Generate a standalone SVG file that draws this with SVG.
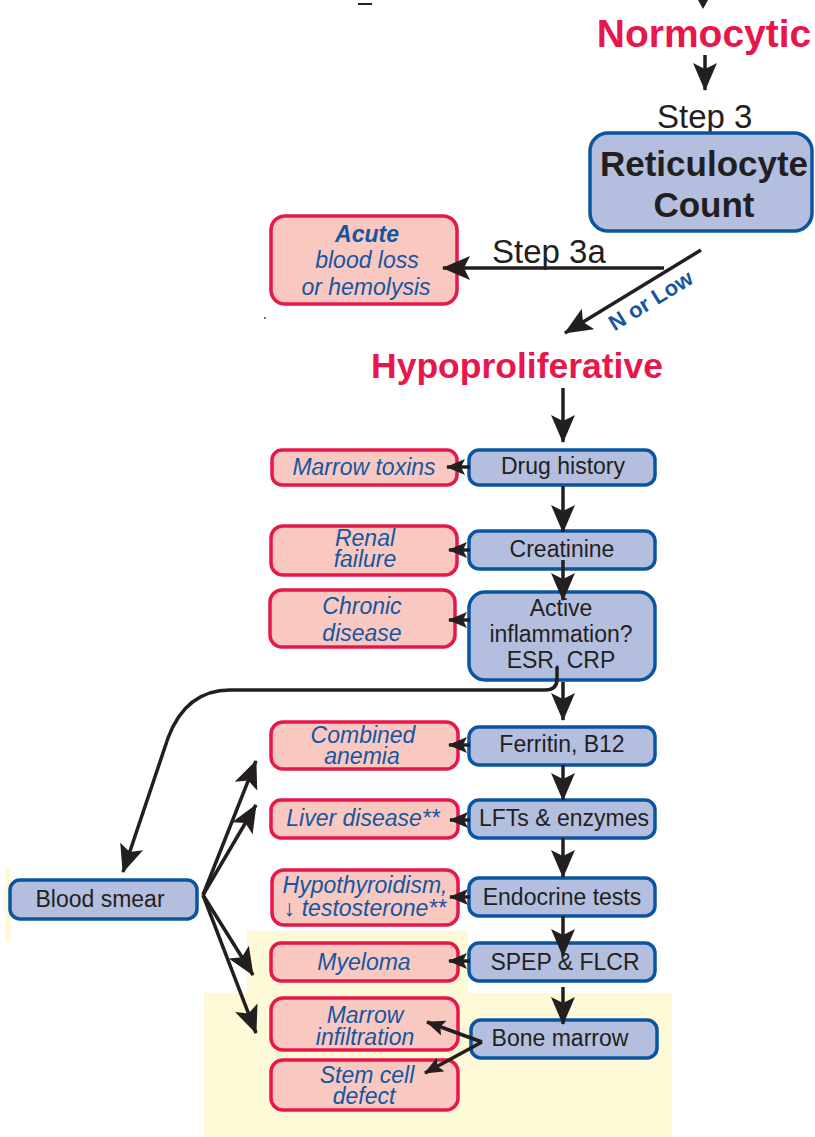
<svg xmlns="http://www.w3.org/2000/svg" width="815" height="1137" viewBox="0 0 815 1137">
  <style>
    .bg { fill: #ffffff; }
    .hl { fill: #FEF9D6; }
    .test { fill: #B4BEDF; stroke: #0B55A0; stroke-width: 3.5; }
    .dx { fill: #F8C8C1; stroke: #E8174B; stroke-width: 3.5; }
    .t { font-family: "Liberation Sans", Arial, sans-serif; font-size: 23px; fill: #231F20; text-anchor: middle; }
    .tb { font-family: "Liberation Sans", Arial, sans-serif; font-size: 35px; font-weight: bold; fill: #231F20; text-anchor: middle; }
    .d { font-family: "Liberation Sans", Arial, sans-serif; font-size: 23px; font-style: italic; fill: #1556A0; text-anchor: middle; }
    .head { font-family: "Liberation Sans", Arial, sans-serif; font-weight: bold; fill: #E8174B; text-anchor: middle; }
    .step { font-family: "Liberation Sans", Arial, sans-serif; font-size: 33px; fill: #231F20; }
    .ln { fill: none; stroke: #231F20; stroke-width: 3.5; }
    .big { marker-end: url(#ah); }
    .sm { marker-end: url(#as); }
  </style>
  <defs>
    <marker id="ah" markerUnits="userSpaceOnUse" viewBox="0 0 28 24" refX="27" refY="12" markerWidth="28" markerHeight="24" orient="auto">
      <path d="M0,0 L28,12 L0,24 L6,12 z" fill="#231F20"/>
    </marker>
    <marker id="as" markerUnits="userSpaceOnUse" viewBox="0 0 19 16" refX="18" refY="8" markerWidth="19" markerHeight="16" orient="auto">
      <path d="M0,0 L19,8 L0,16 L4,8 z" fill="#231F20"/>
    </marker>
  </defs>

  <rect class="bg" x="0" y="0" width="815" height="1137"/>

  <!-- pale highlight panels -->
  <rect class="hl" x="247" y="931" width="221" height="63"/>
  <rect class="hl" x="204" y="993" width="468" height="144"/>
  <rect class="hl" x="5" y="867" width="6" height="74"/>

  <!-- cropped marks along the top edge -->
  <line x1="358" y1="4" x2="372" y2="4" stroke="#231F20" stroke-width="2"/>
  <path d="M698,0 L708,0 L703,9 z" fill="#231F20"/>
  <circle cx="265" cy="318" r="1" fill="#1556A0"/>

  <!-- headings -->
  <text class="head" x="704" y="47" font-size="39">Normocytic</text>
  <text class="head" x="517" y="378" font-size="35.5">Hypoproliferative</text>
  <text class="step" x="657" y="128">Step 3</text>
  <text class="step" x="492" y="263">Step 3a</text>

  <!-- test nodes -->
  <g id="reticulocyte">
    <rect class="test" x="590" y="133" width="222" height="98" rx="18"/>
    <text class="tb" x="704" y="176">Reticulocyte</text>
    <text class="tb" x="704" y="217">Count</text>
  </g>
  <g id="drug-history">
    <rect class="test" x="469" y="450" width="186" height="35" rx="10"/>
    <text class="t" x="563" y="474">Drug history</text>
  </g>
  <g id="creatinine">
    <rect class="test" x="469" y="531" width="186" height="38" rx="10"/>
    <text class="t" x="562" y="557">Creatinine</text>
  </g>
  <g id="inflammation">
    <rect class="test" x="469" y="592" width="186" height="88" rx="16"/>
    <text class="t" x="561" y="616">Active</text>
    <text class="t" x="561" y="642">inflammation?</text>
    <text class="t" x="561" y="668">ESR, CRP</text>
  </g>
  <g id="ferritin">
    <rect class="test" x="469" y="727" width="186" height="38" rx="10"/>
    <text class="t" x="562" y="752">Ferritin, B12</text>
  </g>
  <g id="lfts">
    <rect class="test" x="469" y="800" width="186" height="38" rx="10"/>
    <text class="t" x="564" y="826">LFTs &amp; enzymes</text>
  </g>
  <g id="endocrine">
    <rect class="test" x="469" y="878" width="186" height="38" rx="10"/>
    <text class="t" x="562" y="905">Endocrine tests</text>
  </g>
  <g id="spep">
    <rect class="test" x="469" y="943" width="186" height="38" rx="10"/>
    <text class="t" x="565" y="970">SPEP &amp; FLCR</text>
  </g>
  <g id="bone-marrow">
    <rect class="test" x="471" y="1020" width="186" height="38" rx="10"/>
    <text class="t" x="560" y="1046">Bone marrow</text>
  </g>
  <g id="blood-smear">
    <rect class="test" x="10" y="880" width="187" height="39" rx="10"/>
    <text class="t" x="100" y="907">Blood smear</text>
  </g>

  <!-- diagnosis nodes -->
  <g id="acute">
    <rect class="dx" x="271" y="216" width="186" height="88" rx="14"/>
    <text class="d" x="367" y="242" font-weight="bold">Acute</text>
    <text class="d" x="367" y="268">blood loss</text>
    <text class="d" x="366" y="295">or hemolysis</text>
  </g>
  <g id="marrow-toxins">
    <rect class="dx" x="272" y="450" width="185" height="35" rx="10"/>
    <text class="d" x="364" y="475">Marrow toxins</text>
  </g>
  <g id="renal-failure">
    <rect class="dx" x="271" y="526" width="186" height="49" rx="12"/>
    <text class="d" x="365" y="546">Renal</text>
    <text class="d" x="365" y="567">failure</text>
  </g>
  <g id="chronic-disease">
    <rect class="dx" x="270" y="590" width="185" height="57" rx="12"/>
    <text class="d" x="362" y="614">Chronic</text>
    <text class="d" x="362" y="641">disease</text>
  </g>
  <g id="combined-anemia">
    <rect class="dx" x="271" y="722" width="187" height="47" rx="12"/>
    <text class="d" x="363" y="743">Combined</text>
    <text class="d" x="362" y="764">anemia</text>
  </g>
  <g id="liver-disease">
    <rect class="dx" x="271" y="800" width="187" height="38" rx="10"/>
    <text class="d" x="363" y="826">Liver disease**</text>
  </g>
  <g id="hypothyroidism">
    <rect class="dx" x="272" y="870" width="186" height="55" rx="12"/>
    <text class="d" x="365" y="893">Hypothyroidism,</text>
    <text class="d" x="365" y="916">↓ testosterone**</text>
  </g>
  <g id="myeloma">
    <rect class="dx" x="271" y="943" width="187" height="38" rx="10"/>
    <text class="d" x="364" y="970">Myeloma</text>
  </g>
  <g id="marrow-infiltration">
    <rect class="dx" x="271" y="998" width="187" height="52" rx="12"/>
    <text class="d" x="365" y="1023">Marrow</text>
    <text class="d" x="365" y="1045">infiltration</text>
  </g>
  <g id="stem-cell-defect">
    <rect class="dx" x="271" y="1060" width="187" height="50" rx="12"/>
    <text class="d" x="367" y="1083">Stem cell</text>
    <text class="d" x="364" y="1104">defect</text>
  </g>

  <!-- connectors, drawn over the boxes they start from -->
  <g id="connectors">
    <line class="ln big" x1="705" y1="55" x2="705" y2="90"/>
    <line class="ln big" x1="664" y1="268" x2="443" y2="268"/>
    <line class="ln big" x1="701" y1="250" x2="565" y2="333"/>
    <line class="ln big" x1="563" y1="388" x2="563" y2="442"/>
    <line class="ln sm" x1="470" y1="467" x2="447" y2="467"/>
    <line class="ln big" x1="563" y1="486" x2="563" y2="532"/>
    <line class="ln sm" x1="470" y1="550" x2="449" y2="550"/>
    <line class="ln big" x1="563" y1="560" x2="563" y2="600"/>
    <line class="ln sm" x1="470" y1="620" x2="449" y2="620"/>
    <path class="ln big" d="M557,667 V679 Q557,690 545,690 H230 Q186,690 168,738 L123,872"/>
    <line class="ln big" x1="563" y1="682" x2="563" y2="720"/>
    <line class="ln sm" x1="470" y1="745" x2="449" y2="745"/>
    <line class="ln big" x1="563" y1="765" x2="563" y2="800"/>
    <line class="ln sm" x1="470" y1="820" x2="450" y2="820"/>
    <line class="ln big" x1="563" y1="838" x2="563" y2="877"/>
    <line class="ln sm" x1="470" y1="897" x2="450" y2="897"/>
    <line class="ln big" x1="563" y1="916" x2="563" y2="956"/>
    <line class="ln sm" x1="470" y1="961" x2="449" y2="961"/>
    <line class="ln big" x1="563" y1="987" x2="563" y2="1024"/>
    <line class="ln sm" x1="482" y1="1042" x2="427" y2="1022"/>
    <line class="ln sm" x1="482" y1="1042" x2="425" y2="1073"/>
    <line class="ln big" x1="203" y1="895" x2="256" y2="761"/>
    <line class="ln big" x1="203" y1="895" x2="256" y2="805"/>
    <line class="ln big" x1="203" y1="895" x2="253" y2="975"/>
    <line class="ln big" x1="203" y1="895" x2="256" y2="1033"/>
  </g>
  <text x="651" y="308" transform="rotate(-31.6 651 301)" font-family="Liberation Sans, Arial, sans-serif" font-weight="bold" font-size="22" fill="#1556A0" text-anchor="middle">N or Low</text>
</svg>
